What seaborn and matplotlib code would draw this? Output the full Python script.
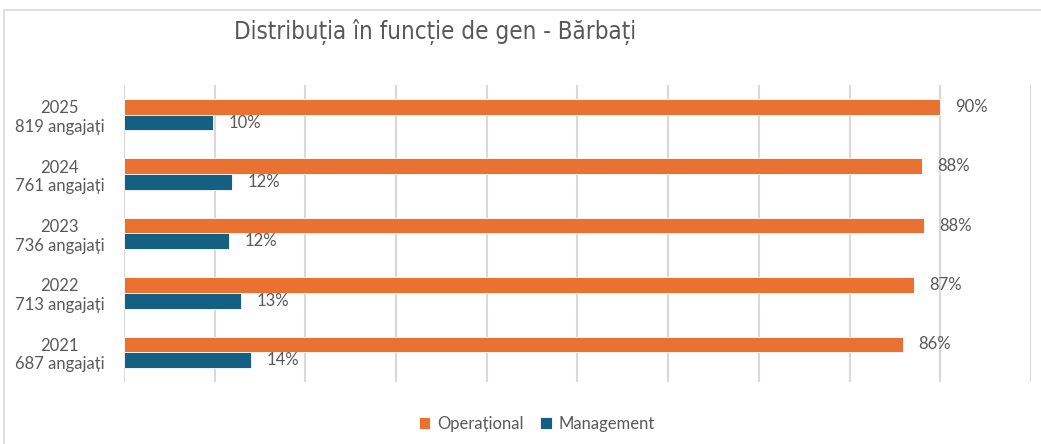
import pandas as pd
import seaborn as sns
import matplotlib.pyplot as plt
from matplotlib.patches import Rectangle

years = ['2025', '2024', '2023', '2022', '2021']
employees = [819, 761, 736, 713, 687]
operational = [90.0, 88.0, 88.2, 87.1, 85.9]
management = [9.8, 11.9, 11.6, 12.9, 14.0]

labels = [f'{y}\n{n} angajați' for y, n in zip(years, employees)]

df = pd.concat([
    pd.DataFrame({'cat': labels, 'val': operational, 'serie': 'Operațional'}),
    pd.DataFrame({'cat': labels, 'val': management, 'serie': 'Management'}),
])

sns.set_style('white')
plt.rcParams['font.family'] = ['Lato', 'DejaVu Sans']
gray = '#595959'

fig = plt.figure(figsize=(10.41, 4.44), dpi=100)
ax = fig.add_axes([0.1191, 0.1396, 0.8713, 0.669])

sns.barplot(df, x='val', y='cat', hue='serie', orient='h', width=0.53,
            palette={'Operațional': '#E97132', 'Management': '#156082'},
            saturation=1, edgecolor='white', linewidth=0.6, ax=ax)

for c in ax.containers:
    ax.bar_label(c, fmt='%.0f%%', padding=11, color=gray, fontsize=12)

ax.set_xlim(0, 100)
ax.set_xticks(range(0, 101, 10))
ax.set_xticklabels([])
ax.tick_params(axis='x', length=0)
ax.tick_params(axis='y', length=0, pad=14, labelsize=12, labelcolor=gray)
for t in ax.get_yticklabels():
    t.set_multialignment('center')
ax.grid(axis='x', color='#D9D9D9', linewidth=1.5)
ax.set_axisbelow(True)
sns.despine(ax=ax, left=True, bottom=True)
ax.set_xlabel('')
ax.set_ylabel('')

ax.legend(loc='center', bbox_to_anchor=(0.455, -0.14), ncol=2, frameon=False,
          fontsize=12, labelcolor=gray, handlelength=0.7, handleheight=0.7,
          handletextpad=0.4, columnspacing=1.0)

fig.text(0.418, 0.928, 'Distribuția în funcție de gen - Bărbați', ha='center', va='center',
         fontsize=17.3, color=gray, family=['DejaVu Sans'], fontstretch='condensed')

fig.patches.append(Rectangle((4 / 1041, -0.1), 1.1, 1.1 - 10 / 444,
                             transform=fig.transFigure, fill=False,
                             edgecolor='#D9D9D9', linewidth=1.2))

fig.savefig('out.png', dpi=100)
